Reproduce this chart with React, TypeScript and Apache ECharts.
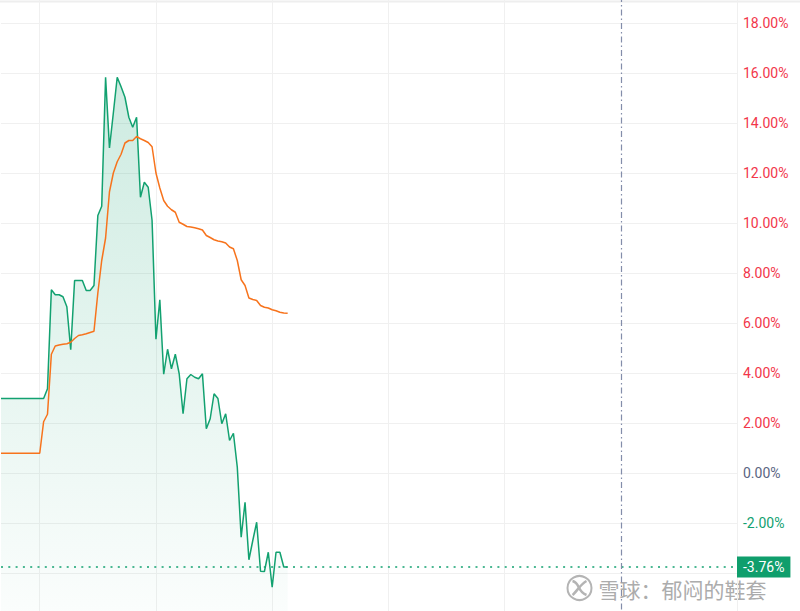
import React, { useEffect, useRef } from "react";
import * as echarts from "echarts";

// x positions (day index) — 191 slots across the plot
const categories: string[] = Array.from({ length: 191 }, (_, i) => String(i));

// green series: return (%)
const greenValues: number[] = [
  2.98, 2.98, 2.98, 2.98, 2.98, 2.98, 2.98, 2.98, 2.98, 2.98, 2.98, 2.98,
  3.37, 7.33, 7.13, 7.13, 7.05, 6.65, 4.93, 7.7, 7.7, 7.7, 7.3, 7.3, 7.5,
  10.3, 10.67, 15.83, 13.0, 14.4, 15.83, 15.45, 15.03, 14.23, 13.83, 14.23,
  11.03, 11.63, 11.43, 10.1, 5.35, 6.93, 3.95, 4.95, 4.17, 4.75, 3.97, 2.37,
  3.77, 3.94, 3.83, 3.77, 3.97, 1.77, 2.17, 3.17, 2.98, 1.97, 2.37, 1.3, 1.59,
  0.23, -2.57, -1.17, -3.47, -2.7, -1.97, -3.93, -3.94, -3.17, -4.57, -3.17,
  -3.17, -3.76, -3.76,
];

// orange series: return (%)
const orangeValues: number[] = [
  0.79, 0.79, 0.79, 0.79, 0.79, 0.79, 0.79, 0.79, 0.79, 0.79, 0.79,
  2.05, 2.35, 4.75, 5.08, 5.12, 5.15, 5.17, 5.23, 5.38, 5.5, 5.53, 5.57, 5.62,
  5.67, 7.2, 8.5, 9.4, 11.25, 12.0, 12.45, 12.75, 13.2, 13.3, 13.3, 13.46,
  13.37, 13.3, 13.22, 13.05, 12.0, 11.4, 10.9, 10.67, 10.53, 10.43, 10.03,
  9.95, 9.86, 9.84, 9.81, 9.77, 9.72, 9.5, 9.42, 9.33, 9.28, 9.25, 9.2, 9.04,
  8.97, 8.5, 7.73, 7.5, 7.0, 6.94, 6.9, 6.7, 6.63, 6.6, 6.53, 6.49, 6.43,
  6.4, 6.39,
];

const lastValue = -3.76;
const markerCategory = "160";
const yMin = -6;
const yMax = 20;
const yInterval = 2;
const watermarkText = "雪球：郁闷的鞋套";

const GREEN = "#12a170";
const ORANGE = "#f7731c";
const RED = "#f2364a";
const SLATE = "#5a6582";
const GRID = "#f0f0f0";

// the chart canvas is taller than the window; it is shifted up by this much
const SHIFT = 27.5;

export default function App() {
  const ref = useRef<HTMLDivElement>(null);

  useEffect(() => {
    if (!ref.current) return;
    const chart = echarts.init(ref.current, undefined, { renderer: "svg" });
    const option: any = {
      animation: false,
      backgroundColor: "#ffffff",
      grid: { left: 1, right: 63, top: 0, bottom: 0, containLabel: false },
      xAxis: {
        type: "category",
        data: categories,
        boundaryGap: false,
        axisLine: { show: false },
        axisTick: { show: false },
        axisLabel: { show: false },
        splitLine: {
          show: true,
          interval: (idx: number) => idx % 30 === 10 && idx !== 160,
          lineStyle: { color: GRID, width: 1 },
        },
      },
      yAxis: {
        type: "value",
        position: "right",
        min: yMin,
        max: yMax,
        interval: yInterval,
        axisLine: { show: false },
        axisTick: { show: false },
        splitLine: { show: true, lineStyle: { color: GRID, width: 1 } },
        axisLabel: {
          margin: 6,
          fontSize: 14,
          fontFamily: "Roboto",
          padding: [6, 0, 0, 0],
          formatter: (v: number) =>
            v <= -4 || v >= 20 ? "" : v.toFixed(2) + "%",
          color: (v: any) => {
            const n = Number(v);
            return n > 0 ? RED : n < 0 ? GREEN : SLATE;
          },
        },
      },
      series: [
        {
          name: "green",
          type: "line",
          data: greenValues,
          showSymbol: false,
          symbol: "none",
          lineStyle: { color: GREEN, width: 1.5 },
          itemStyle: { color: GREEN },
          areaStyle: {
            origin: "start",
            color: new echarts.graphic.LinearGradient(0, 0, 0, 1, [
              { offset: 0, color: "rgba(18,161,112,0.3)" },
              { offset: 1, color: "rgba(18,161,112,0.02)" },
            ]),
          },
          z: 2,
          markLine: {
            silent: true,
            symbol: ["none", "none"],
            animation: false,
            data: [
              {
                yAxis: lastValue,
                lineStyle: { color: GREEN, type: [2, 5.3], width: 1.6 },
                label: {
                  show: true,
                  position: "end",
                  distance: 0,
                  formatter: lastValue.toFixed(2) + "%",
                  color: "#ffffff",
                  backgroundColor: "#0f9e6c",
                  fontSize: 14,
                  fontFamily: "Roboto",
                  padding: [4, 6, 3, 6],
                },
              },
              {
                xAxis: markerCategory,
                lineStyle: { color: "#838daa", type: [6, 3, 1.5, 3], width: 1.2 },
                label: { show: false },
              },
            ],
          },
        },
        {
          name: "orange",
          type: "line",
          data: orangeValues,
          showSymbol: false,
          symbol: "none",
          lineStyle: { color: ORANGE, width: 1.5 },
          itemStyle: { color: ORANGE },
          z: 3,
        },
      ],
      graphic: [
        {
          type: "rect",
          left: 0,
          top: SHIFT,
          shape: { width: 800, height: 2 },
          style: { fill: "#eeeeee" },
          silent: true,
        },
        {
          type: "group",
          left: 565,
          top: 573 + SHIFT,
          silent: true,
          children: [
            {
              type: "circle",
              shape: { cx: 13, cy: 13, r: 12 },
              style: { fill: "none", stroke: "#b4b4b4", lineWidth: 2 },
            },
            {
              type: "bezierCurve",
              shape: { x1: 6, y1: 6, x2: 20, y2: 20, cpx1: 14, cpy1: 8, cpx2: 10, cpy2: 16 },
              style: { fill: "none", stroke: "#b4b4b4", lineWidth: 2.5 },
            },
            {
              type: "bezierCurve",
              shape: { x1: 20, y1: 6, x2: 6, y2: 20, cpx1: 14, cpy1: 9, cpx2: 10, cpy2: 17 },
              style: { fill: "none", stroke: "#b4b4b4", lineWidth: 2.5 },
            },
            {
              type: "text",
              x: 32,
              y: 14,
              style: {
                text: watermarkText,
                fill: "#acacac",
                font: "21px 'Noto Sans CJK SC'",
                verticalAlign: "middle",
                stroke: "rgba(255,255,255,0.6)",
                lineWidth: 1,
              },
            },
          ],
        },
      ],
    };
    chart.setOption(option);
    return () => chart.dispose();
  }, []);

  return (
    <div
      ref={ref}
      style={{ position: "fixed", left: 0, top: -SHIFT, width: 800, height: 650 }}
    />
  );
}
